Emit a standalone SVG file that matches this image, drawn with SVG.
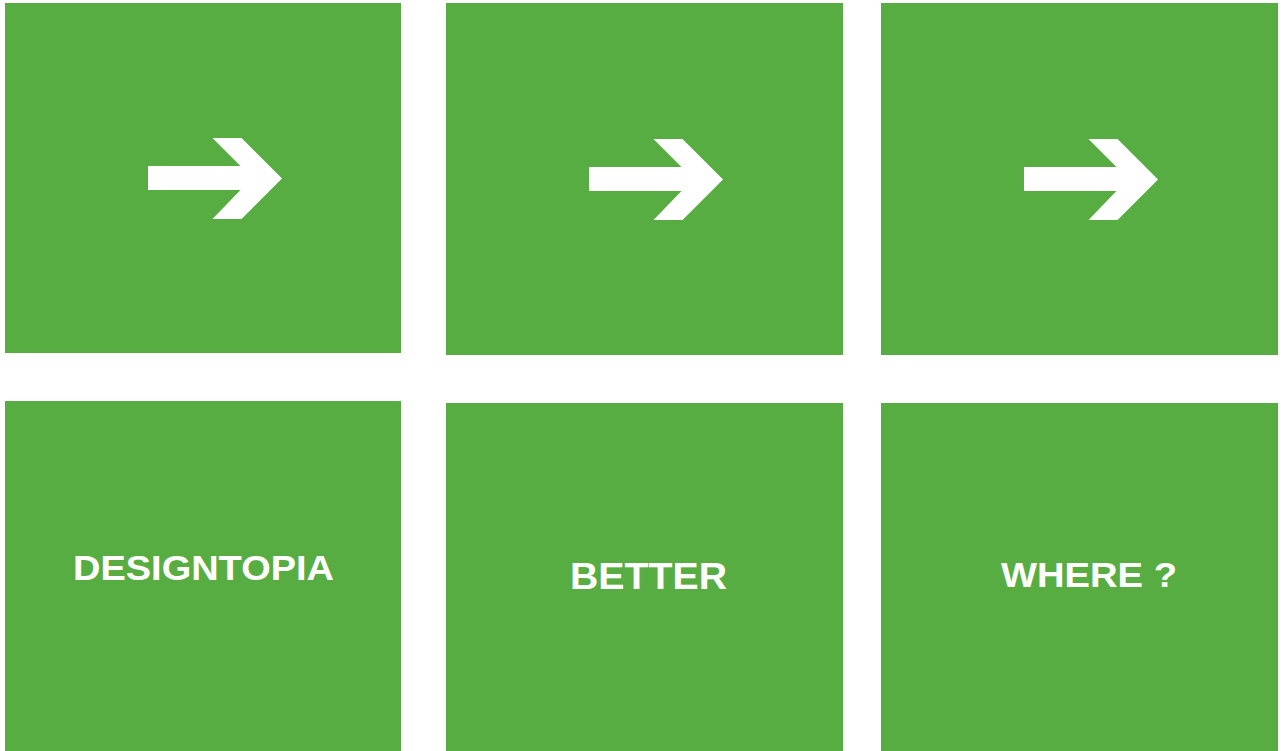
<svg xmlns="http://www.w3.org/2000/svg" width="1284" height="751" viewBox="0 0 1284 751">
<style>
.box{fill:#58ad42}
.arr{fill:#ffffff}
.lbl{fill:#ffffff;font-family:"Liberation Sans",Arial,sans-serif;font-weight:bold;font-size:35px}
</style>
<defs>
<polygon id="arrow" points="148,166 240.5,166 212.5,138 241.5,138 282,178.5 241.5,219 212.5,219 240.5,190 148,190"/>
</defs>
<rect width="1284" height="751" fill="#ffffff"/>
<g id="node-1"><rect class="box" x="5" y="3" width="396" height="350"/><use href="#arrow" class="arr"/></g>
<g id="node-2"><rect class="box" x="446" y="3" width="397" height="352"/><use href="#arrow" class="arr" transform="translate(441,1)"/></g>
<g id="node-3"><rect class="box" x="881" y="3" width="397" height="352"/><use href="#arrow" class="arr" transform="translate(876,1)"/></g>
<g id="node-4"><rect class="box" x="5" y="401" width="396" height="350"/><text class="lbl" x="73" y="580" textLength="261" lengthAdjust="spacingAndGlyphs">DESIGNTOPIA</text></g>
<g id="node-5"><rect class="box" x="446" y="403" width="397" height="348"/><text class="lbl" x="570" y="589" style="font-size:36px" textLength="157" lengthAdjust="spacingAndGlyphs">BETTER</text></g>
<g id="node-6"><rect class="box" x="881" y="403" width="397" height="348"/><text class="lbl" x="1001" y="587" textLength="176" lengthAdjust="spacingAndGlyphs">WHERE ?</text></g>
<g id="connectors"></g>
</svg>
